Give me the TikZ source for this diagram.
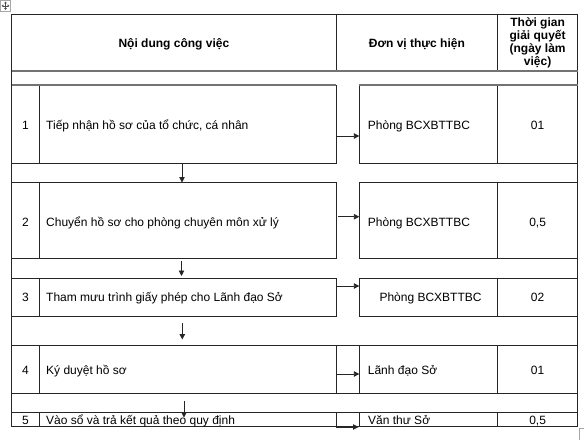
\documentclass[tikz,border=0pt]{standalone}
\usepackage{fontspec}
\setmainfont{Liberation Sans}
\usetikzlibrary{arrows.meta}

\begin{document}
\begin{tikzpicture}[x=1pt, y=-1pt,
		rule/.style={line width=0.9pt, color=black!85},
		headrule/.style={line width=1.6pt, color=black!55},
		arr/.style={line width=0.9pt, color=black!85, -{Triangle[length=5.5pt, width=5.5pt]}},
		cell/.style={inner sep=0pt, anchor=base, font=\fontsize{12}{13}\selectfont},
		lcell/.style={cell, anchor=base west},
		headcell/.style={inner sep=0pt, font=\fontsize{12}{13}\selectfont\bfseries}]
			%%%%% START %%%%%
			\useasboundingbox (0,0) rectangle (584,440);
			
			% move handle and resize corner
			\draw[line width=0.5pt, color=black!35] (0.5,0.5) rectangle (10.5,11);
			\draw[line width=0.6pt, color=black!70, {Triangle[length=1.8pt, width=2.6pt]}-{Triangle[length=1.8pt, width=2.6pt]}] (5.5,1.6) -- (5.5,9.9);
			\draw[line width=0.6pt, color=black!70, {Triangle[length=1.8pt, width=2.6pt]}-{Triangle[length=1.8pt, width=2.6pt]}] (1.6,5.8) -- (9.4,5.8);
			\draw[line width=0.5pt, color=black!35] (579.5,440) -- (579.5,428.5) -- (584,428.5);
			
			% header
			\draw[rule] (11.7,14) rectangle (577.5,70.7);
			\draw[rule] (336,14) -- (336,70.7);
			\draw[rule] (497.7,14) -- (497.7,70.7);
			\node[headcell, anchor=base] (hdtask) at (173.9,47.6) {Nội dung công việc};
			\node[headcell, anchor=base] (hdunit) at (416.9,47.6) {Đơn vị thực hiện};
			\node[headcell, align=center] (hddays) at (537.6,42.4) {Thời gian\\giải quyết\\(ngày làm\\việc)};
			
			% outer sides
			\draw[rule] (11.7,70.7) -- (11.7,426);
			\draw[rule] (577.5,70.7) -- (577.5,426);
			
			% row 1
			\draw[rule] (11.7,85) rectangle (336,163.3);
			\draw[rule] (359.3,85) rectangle (577.5,163.3);
			\draw[rule] (39.3,85) -- (39.3,163.3);
			\draw[rule] (497.7,85) -- (497.7,163.3);
			\node[cell] (num1) at (25.5,129.2) {1};
			\node[lcell] (task1) at (46,129.2) {Tiếp nhận hồ sơ của tổ chức, cá nhân};
			\node[lcell] (unit1) at (367.7,129.2) {Phòng BCXBTTBC};
			\node[cell] (days1) at (537.6,129.2) {01};
			
			% row 2
			\draw[rule] (11.7,182.7) rectangle (336,258.3);
			\draw[rule] (359.3,182.7) rectangle (577.5,258.3);
			\draw[rule] (39.3,182.7) -- (39.3,258.3);
			\draw[rule] (497.7,182.7) -- (497.7,258.3);
			\node[cell] (num2) at (25.5,226) {2};
			\node[lcell] (task2) at (46,226) {Chuyển hồ sơ cho phòng chuyên môn xử lý};
			\node[lcell] (unit2) at (367.7,226) {Phòng BCXBTTBC};
			\node[cell] (days2) at (537.6,226) {0,5};
			
			% row 3
			\draw[rule] (11.7,278.3) rectangle (336,316);
			\draw[rule] (359.3,278.3) rectangle (577.5,316);
			\draw[rule] (39.3,278.3) -- (39.3,316);
			\draw[rule] (497.7,278.3) -- (497.7,316);
			\node[cell] (num3) at (25.5,301.8) {3};
			\node[lcell] (task3) at (46,301.8) {Tham mưu trình giấy phép cho Lãnh đạo Sở};
			\node[lcell] (unit3) at (379.3,301.8) {Phòng BCXBTTBC};
			\node[cell] (days3) at (537.6,301.8) {02};
			
			% row 4
			\draw[rule] (11.7,345) rectangle (336,393.3);
			\draw[rule] (359.3,345) rectangle (577.5,393.3);
			\draw[rule] (336,345) -- (359.3,345);
			\draw[rule] (336,393.3) -- (359.3,393.3);
			\draw[rule] (39.3,345) -- (39.3,393.3);
			\draw[rule] (497.7,345) -- (497.7,393.3);
			\node[cell] (num4) at (25.5,374) {4};
			\node[lcell] (task4) at (46,374) {Ký duyệt hồ sơ};
			\node[lcell] (unit4) at (367.7,374) {Lãnh đạo Sở};
			\node[cell] (days4) at (537.6,374) {01};
			
			% row 5
			\draw[rule] (11.7,412.7) rectangle (336,426);
			\draw[rule] (359.3,412.7) rectangle (577.5,426);
			\draw[rule] (336,412.7) -- (359.3,412.7);
			\draw[rule] (336,426) -- (359.3,426);
			\draw[rule] (39.3,412.7) -- (39.3,426);
			\draw[rule] (497.7,412.7) -- (497.7,426);
			\node[cell] (num5) at (25.5,424) {5};
			\node[lcell] (task5) at (46,424) {Vào sổ và trả kết quả theo quy định};
			\node[lcell] (unit5) at (368,424) {Văn thư Sở};
			\node[cell] (days5) at (537.6,424) {0,5};
			
			% grey rules under the header
			\draw[headrule] (11.7,70.7) -- (577.5,70.7);
			\draw[headrule] (11.7,85) -- (336,85);
			\draw[headrule] (359.3,85) -- (577.5,85);
			
			% arrows to the unit column
			\coordinate (go1) at (336,136);
			\coordinate (to1) at (359.3,136);
			\coordinate (go2) at (338,216.7);
			\coordinate (to2) at (359.3,216.7);
			\coordinate (go3) at (336,286);
			\coordinate (to3) at (359.3,286);
			\coordinate (go4) at (336,374);
			\coordinate (to4) at (359.3,374);
			\coordinate (go5) at (336,427);
			\coordinate (to5) at (358.5,427);
			\draw[arr] (go1) -- (to1);
			\draw[arr] (go2) -- (to2);
			\draw[arr] (go3) -- (to3);
			\draw[arr] (go4) -- (to4);
			\draw[arr] (go5) -- (to5);
			
			% arrows down to the next step
			\coordinate (dn1) at (182,162.7);
			\coordinate (up2) at (182,182.5);
			\coordinate (dn2) at (181.5,261);
			\coordinate (up3) at (181.5,276);
			\coordinate (dn3) at (182.3,323);
			\coordinate (up4) at (182.3,339.5);
			\coordinate (dn4) at (184,401);
			\coordinate (up5) at (184,417.5);
			\draw[arr] (dn1) -- (up2);
			\draw[arr] (dn2) -- (up3);
			\draw[arr] (dn3) -- (up4);
			\draw[arr] (dn4) -- (up5);
			
			%%%%% END %%%%%
\end{tikzpicture}
\end{document}
